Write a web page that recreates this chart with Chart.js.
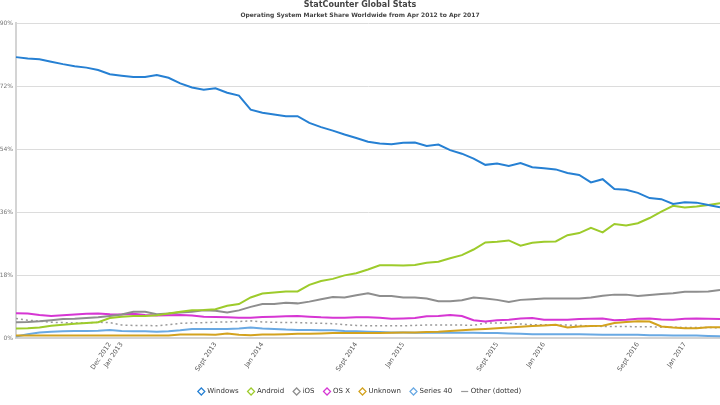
<!DOCTYPE html>
<html>
<head>
<meta charset="utf-8">
<script src="https://cdn.jsdelivr.net/npm/chart.js@4"></script>
<style>
html,body{margin:0;padding:0;background:#fff;}
#wrap{width:720px;height:405px;}
</style>
</head>
<body>
<div id="wrap"><canvas id="c" width="720" height="405"></canvas></div>
<script>
const months = [
 "Apr 2012","May 2012","June 2012","July 2012","Aug 2012","Sept 2012","Oct 2012","Nov 2012","Dec 2012",
 "Jan 2013","Feb 2013","Mar 2013","Apr 2013","May 2013","June 2013","July 2013","Aug 2013","Sept 2013","Oct 2013","Nov 2013","Dec 2013",
 "Jan 2014","Feb 2014","Mar 2014","Apr 2014","May 2014","June 2014","July 2014","Aug 2014","Sept 2014","Oct 2014","Nov 2014","Dec 2014",
 "Jan 2015","Feb 2015","Mar 2015","Apr 2015","May 2015","June 2015","July 2015","Aug 2015","Sept 2015","Oct 2015","Nov 2015","Dec 2015",
 "Jan 2016","Feb 2016","Mar 2016","Apr 2016","May 2016","June 2016","July 2016","Aug 2016","Sept 2016","Oct 2016","Nov 2016","Dec 2016",
 "Jan 2017","Feb 2017","Mar 2017","Apr 2017"
];
const shownTicks = ["Dec 2012","Jan 2013","Sept 2013","Jan 2014","Sept 2014","Jan 2015","Sept 2015","Jan 2016","Sept 2016","Jan 2017"];
const yTicks = [0,18,36,54,72,90];

const windows = [80.3,79.9,79.7,79.0,78.3,77.7,77.3,76.6,75.4,75.0,74.6,74.6,75.2,74.4,72.8,71.6,71.0,71.4,70.1,69.3,65.3,
 64.4,63.9,63.4,63.4,61.5,60.3,59.3,58.2,57.2,56.1,55.6,55.4,55.8,55.9,54.9,55.3,53.7,52.7,51.3,49.5,49.9,49.2,50.0,48.8,
 48.5,48.2,47.2,46.6,44.5,45.4,42.6,42.4,41.5,40.0,39.7,38.3,38.8,38.7,38.0,37.4];
const android = [2.7,2.8,3.0,3.5,3.8,4.1,4.3,4.5,5.7,6.1,6.3,6.3,6.5,7.0,7.5,7.9,8.0,8.2,9.2,9.7,11.6,
 12.7,13.0,13.3,13.3,15.2,16.3,16.9,17.9,18.5,19.6,20.8,20.8,20.7,20.9,21.5,21.8,22.8,23.7,25.3,27.3,27.5,27.9,26.4,27.2,
 27.5,27.6,29.4,30.0,31.5,30.2,32.6,32.2,32.8,34.3,36.1,37.8,37.3,37.6,38.0,38.5];
const ios = [4.5,4.6,4.8,5.1,5.4,5.5,5.7,5.9,6.3,6.7,7.5,7.5,6.8,7.0,7.3,7.5,7.9,7.8,7.3,7.9,8.9,
 9.7,9.7,10.1,9.9,10.4,11.1,11.7,11.6,12.2,12.8,12.0,12.0,11.6,11.6,11.3,10.5,10.5,10.8,11.6,11.3,10.9,10.3,10.9,11.1,
 11.3,11.3,11.3,11.3,11.6,12.1,12.4,12.4,12.0,12.3,12.6,12.8,13.2,13.2,13.3,13.7];
const osx = [7.1,7.0,6.6,6.3,6.5,6.7,6.9,7.0,6.8,6.7,6.9,6.6,6.4,6.5,6.6,6.4,6.1,6.0,5.9,5.8,5.8,
 6.0,6.1,6.2,6.3,6.1,5.9,5.8,5.8,5.9,5.9,5.8,5.5,5.6,5.7,6.2,6.3,6.6,6.3,5.1,4.7,5.1,5.2,5.6,5.7,
 5.2,5.2,5.2,5.4,5.5,5.6,5.1,5.2,5.5,5.6,5.3,5.2,5.5,5.6,5.5,5.4];
const unknown = [0.7,0.7,0.7,0.7,0.7,0.7,0.7,0.7,0.7,0.7,0.7,0.7,0.7,0.7,1.0,1.0,1.0,0.9,1.3,0.9,0.8,
 1.0,1.0,1.1,1.2,1.2,1.3,1.4,1.4,1.4,1.4,1.4,1.5,1.6,1.6,1.7,1.8,2.0,2.2,2.4,2.6,2.8,3.0,3.2,3.4,
 3.6,3.8,3.0,3.3,3.4,3.5,4.3,4.6,4.8,4.7,3.3,3.0,2.8,2.8,3.1,3.1];
const series40 = [0.4,1.1,1.6,1.8,1.9,2.0,2.0,2.1,2.3,2.0,1.9,1.9,1.8,1.9,2.2,2.6,2.6,2.6,2.6,2.7,3.0,
 2.7,2.6,2.4,2.3,2.3,2.2,2.2,2.0,1.9,1.8,1.7,1.6,1.6,1.5,1.5,1.5,1.5,1.5,1.5,1.4,1.4,1.3,1.2,1.1,
 1.1,1.1,1.1,1.1,1.0,0.9,0.9,0.9,0.9,0.8,0.8,0.7,0.7,0.7,0.6,0.5];
const other = [5.6,5.1,4.8,4.5,4.4,4.3,4.3,4.5,4.4,3.7,3.6,3.6,3.5,3.8,4.2,4.3,4.4,4.5,4.6,4.7,4.9,
 4.6,4.5,4.4,4.4,4.3,4.2,4.1,3.8,3.6,3.5,3.5,3.5,3.5,3.6,3.7,3.7,3.7,3.7,3.6,4.3,4.3,4.2,4.0,3.8,
 3.8,3.7,3.7,3.6,3.4,3.3,3.3,3.3,3.2,3.2,3.1,3.1,3.0,3.0,3.0,2.9];

function ds(label, data, color, extra){
  return Object.assign({
    label, data, borderColor: color, backgroundColor: '#fff',
    borderWidth: 2, pointRadius: 0, pointHoverRadius: 0, tension: 0,
    pointStyle: 'rectRot', fill: false
  }, extra||{});
}

const FONT = '"DejaVu Sans", Verdana, sans-serif';

new Chart(document.getElementById('c'), {
  type: 'line',
  data: {
    labels: months,
    datasets: [
      ds('Windows', windows, '#2680d3'),
      ds('Android', android, '#9dcb2b'),
      ds('iOS', ios, '#8e8e8e'),
      ds('OS X', osx, '#d636d3'),
      ds('Unknown', unknown, '#d3a21e'),
      ds('Series 40', series40, '#69a9e3'),
      ds('Other (dotted)', other, '#9a9a9a', {borderWidth: 1.5, borderDash: [2,3], pointStyle: 'line'})
    ]
  },
  options: {
    responsive: false,
    animation: false,
    events: [],
    layout: {padding: {left: 0, right: 0, top: 0, bottom: 0}},
    plugins: {
      tooltip: {enabled: false},
      title: {
        display: true, text: 'StatCounter Global Stats', color: '#444',
        font: {family: FONT, size: 8, weight: 'bold', lineHeight: 1.3},
        padding: {top: 0, bottom: 0}
      },
      subtitle: {
        display: true, text: 'Operating System Market Share Worldwide from Apr 2012 to Apr 2017', color: '#444',
        font: {family: FONT, size: 6, weight: 'bold', lineHeight: 1.3},
        padding: {top: 1, bottom: 4}
      },
      legend: {
        position: 'bottom',
        labels: {
          usePointStyle: true, boxWidth: 5, boxHeight: 5, padding: 10, color: '#333',
          font: {family: FONT, size: 7},
          generateLabels: (chart) => Chart.defaults.plugins.legend.labels.generateLabels(chart).map(l => {
            l.lineWidth = 1.2; l.lineDash = []; l.fillStyle = '#fff'; return l;
          })
        }
      }
    },
    scales: {
      x: {
        offset: false,
        grid: {display: false, drawTicks: false},
        border: {display: true, color: '#d4d4d4', width: 2},
        afterFit: (s) => { s.height = 40; s.paddingLeft = 0; s.paddingRight = 0; },
        ticks: {
          autoSkip: false, maxRotation: 56, minRotation: 56, padding: 3,
          color: '#555', font: {family: FONT, size: 6.5},
          callback: function(v, i){ const l = months[i]; return shownTicks.includes(l) ? l : ''; }
        }
      },
      y: {
        min: 0, max: 90,
        afterFit: (s) => { s.width = 16; },
        afterBuildTicks: (s) => { s.ticks = yTicks.map(v => ({value: v})); },
        grid: {color: '#dcdcdc', drawTicks: false, lineWidth: 1},
        border: {display: true, color: '#d4d4d4', width: 2},
        ticks: {
          padding: 3, color: '#777', font: {family: FONT, size: 6},
          callback: (v) => v + '%'
        }
      }
    }
  }
});
</script>
</body>
</html>
